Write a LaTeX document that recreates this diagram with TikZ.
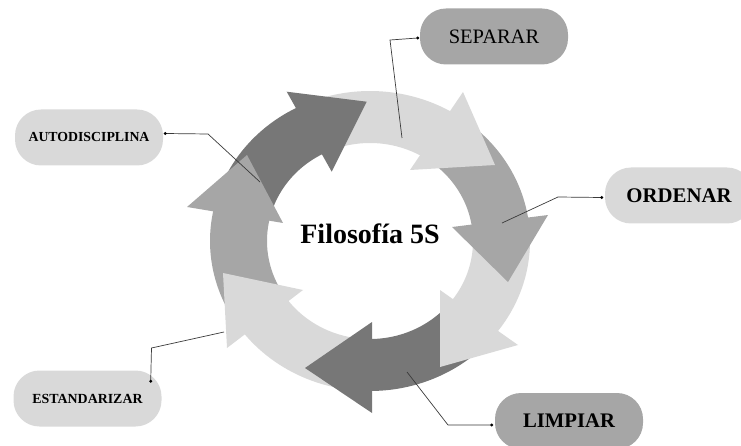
\documentclass[tikz,border=0pt]{standalone}
\usepackage{fontspec}
\setmainfont{Liberation Serif}
\usetikzlibrary{calc}
\definecolor{rdark}{HTML}{777777}
\definecolor{rmed}{HTML}{A6A6A6}
\definecolor{rlight}{HTML}{D9D9D9}
\definecolor{lnk}{HTML}{3A3A3A}
\newcommand\ringbody[3]{%
  \fill[#1] plot[domain=#2:#3,samples=40] ({370+160*cos(\x)},{241+150*sin(\x)})
    -- plot[domain=#3:#2,samples=40] ({370+103*cos(\x)},{241+98*sin(\x)}) -- cycle;}
\begin{document}
\begin{tikzpicture}[x=1pt,y=-1pt,
  lbox/.style={rectangle, rounded corners=26pt, minimum width=148pt, minimum height=56pt, inner sep=0pt, text=black},
  conn/.style={draw=lnk, line width=0.7pt},
  dotend/.style={fill=black}]
\useasboundingbox (0,0) rectangle (741,446);
% ring bodies
\ringbody{rdark}{194.5}{246}
\ringbody{rlight}{245}{304}
\ringbody{rmed}{303}{355}
\ringbody{rlight}{354}{400.5}
\ringbody{rdark}{399.5}{453}
\ringbody{rlight}{452}{506}
\ringbody{rmed}{505}{555.5}
% ring heads
\fill[rdark] (286.7,91.7) -- (366.7,101.7) -- (331.7,171.7) -- cycle;
\fill[rlight] (463,92) -- (495,165) -- (410,170) -- cycle;
\fill[rmed] (548,215) -- (508,282) -- (452,227) -- cycle;
\fill[rlight] (518,345) -- (440,367) -- (440,290) -- cycle;
\fill[rdark] (372,413) -- (305,368) -- (372,322) -- cycle;
\fill[rlight] (227,348) -- (223,273) -- (303,290) -- cycle;
\fill[rmed] (187,207) -- (247,155) -- (283,223) -- cycle;
% centre text
\node[font=\bfseries\fontsize{28}{30}\selectfont] (title) at (370,234) {Filosofía 5S};
% label boxes
\node[lbox, fill=rmed, font=\fontsize{20.5}{22}\selectfont] (sep) at (494,36.5) {SEPARAR};
\node[lbox, fill=rlight, font=\bfseries\fontsize{13.8}{15}\selectfont] (auto) at (89,137.5) {AUTODISCIPLINA};
\node[lbox, fill=rlight, font=\bfseries\fontsize{20.8}{22}\selectfont] (ord) at (679,195.5) {ORDENAR};
\node[lbox, fill=rlight, font=\bfseries\fontsize{13.9}{15}\selectfont] (est) at (87.5,398.5) {ESTANDARIZAR};
\node[lbox, fill=rmed, font=\bfseries\fontsize{20.7}{22}\selectfont] (lim) at (569,421) {LIMPIAR};
% connector ends on the ring
\coordinate (rsep) at (402,138);
\coordinate (rauto) at (260,182);
\coordinate (rord) at (502,223);
\coordinate (rest) at (224,332);
\coordinate (rlim) at (407,372);
% connectors
\coordinate (dsep) at ($(sep.west)+(-2,1.5)$);
\coordinate (dauto) at ($(auto.east)+(2,-4)$);
\coordinate (dord) at ($(ord.west)+(-3,2)$);
\coordinate (dest) at ($(est.north east)+(-11,11)$);
\coordinate (dlim) at ($(lim.west)+(-3,4)$);
\draw[conn] (dsep) -- (390,40) -- (rsep);
\draw[conn] (dauto) -- (208,134) -- (rauto);
\draw[conn] (dord) -- (558,197) -- (rord);
\draw[conn] (dest) -- (151.5,348) -- (rest);
\draw[conn] (dlim) -- (448,425) -- (rlim);
\foreach \d in {dsep,dauto,dord,dest,dlim} \fill[dotend] (\d) circle (1.6);
\end{tikzpicture}
\end{document}
